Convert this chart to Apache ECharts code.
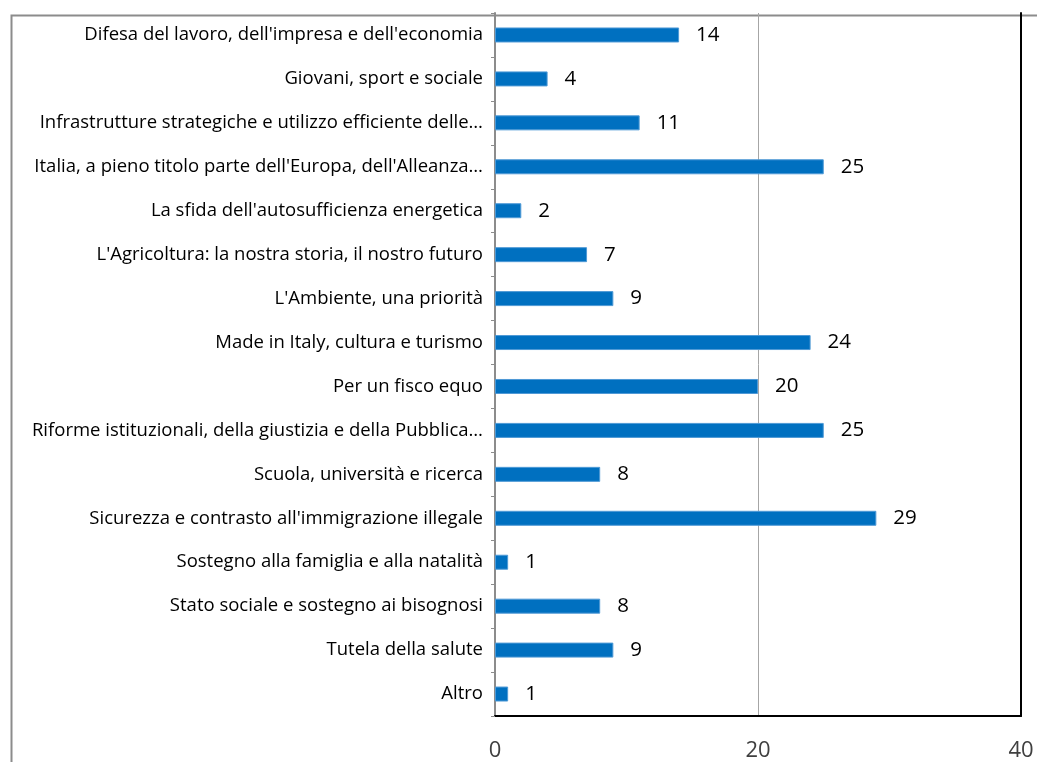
<!DOCTYPE html>
<html><head><meta charset="utf-8">
<script src="https://cdn.jsdelivr.net/npm/echarts@6/dist/echarts.min.js"></script>
<style>html,body{margin:0;padding:0;background:#fff}#c{width:1037px;height:762px}</style>
</head><body><div id="c"></div>
<script>
const categories = [
  "Difesa del lavoro, dell'impresa e dell'economia",
  "Giovani, sport e sociale",
  "Infrastrutture strategiche e utilizzo efficiente delle…",
  "Italia, a pieno titolo parte dell'Europa, dell'Alleanza…",
  "La sfida dell'autosufficienza energetica",
  "L'Agricoltura: la nostra storia, il nostro futuro",
  "L'Ambiente, una priorità",
  "Made in Italy, cultura e turismo",
  "Per un fisco equo",
  "Riforme istituzionali, della giustizia e della Pubblica…",
  "Scuola, università e ricerca",
  "Sicurezza e contrasto all'immigrazione illegale",
  "Sostegno alla famiglia e alla natalità",
  "Stato sociale e sostegno ai bisognosi",
  "Tutela della salute",
  "Altro"
];
const values = [14, 4, 11, 25, 2, 7, 9, 24, 20, 25, 8, 29, 1, 8, 9, 1];
const xTicks = [0, 20, 40];

const chart = echarts.init(document.getElementById('c'), null, {renderer: 'canvas'});
const font = "'Open Sans', 'Noto Sans', sans-serif";
chart.setOption({
  animation: false,
  textStyle: {fontFamily: font},
  graphic: [{
    type: 'rect', left: 9, top: 13, shape: {width: 1200, height: 900},
    style: {fill: 'none', stroke: '#8c8c8c', lineWidth: 2}, z: 0
  }],
  grid: {left: 495, right: 16, top: 13, bottom: 46, containLabel: false},
  xAxis: {
    type: 'value', min: xTicks[0], max: xTicks[xTicks.length - 1], interval: 20,
    axisLine: {show: true, lineStyle: {color: '#000', width: 2}},
    axisTick: {show: false},
    axisLabel: {fontSize: 22, color: '#404040', margin: 24, fontFamily: font},
    splitLine: {show: true, lineStyle: {color: '#a6a6a6', width: 1}}
  },
  yAxis: [{
    type: 'category', data: categories, inverse: true,
    axisLine: {show: true, lineStyle: {color: '#8c8c8c', width: 2}},
    axisTick: {show: true, length: 4, lineStyle: {color: '#8c8c8c'}},
    axisLabel: {fontSize: 18.5, color: '#000', margin: 12, fontFamily: font}
  }, {
    type: 'category', data: categories, inverse: true, position: 'right',
    axisLine: {show: true, lineStyle: {color: '#000', width: 2}},
    axisTick: {show: false}, axisLabel: {show: false}
  }],
  series: [{
    type: 'bar', data: values, yAxisIndex: 0,
    barWidth: 15,
    itemStyle: {color: '#0070C0', borderColor: '#4f9ad6', borderWidth: 1},
    label: {show: true, position: 'right', distance: 17, fontSize: 20.5, color: '#000', fontFamily: font}
  }]
});
</script></body></html>
